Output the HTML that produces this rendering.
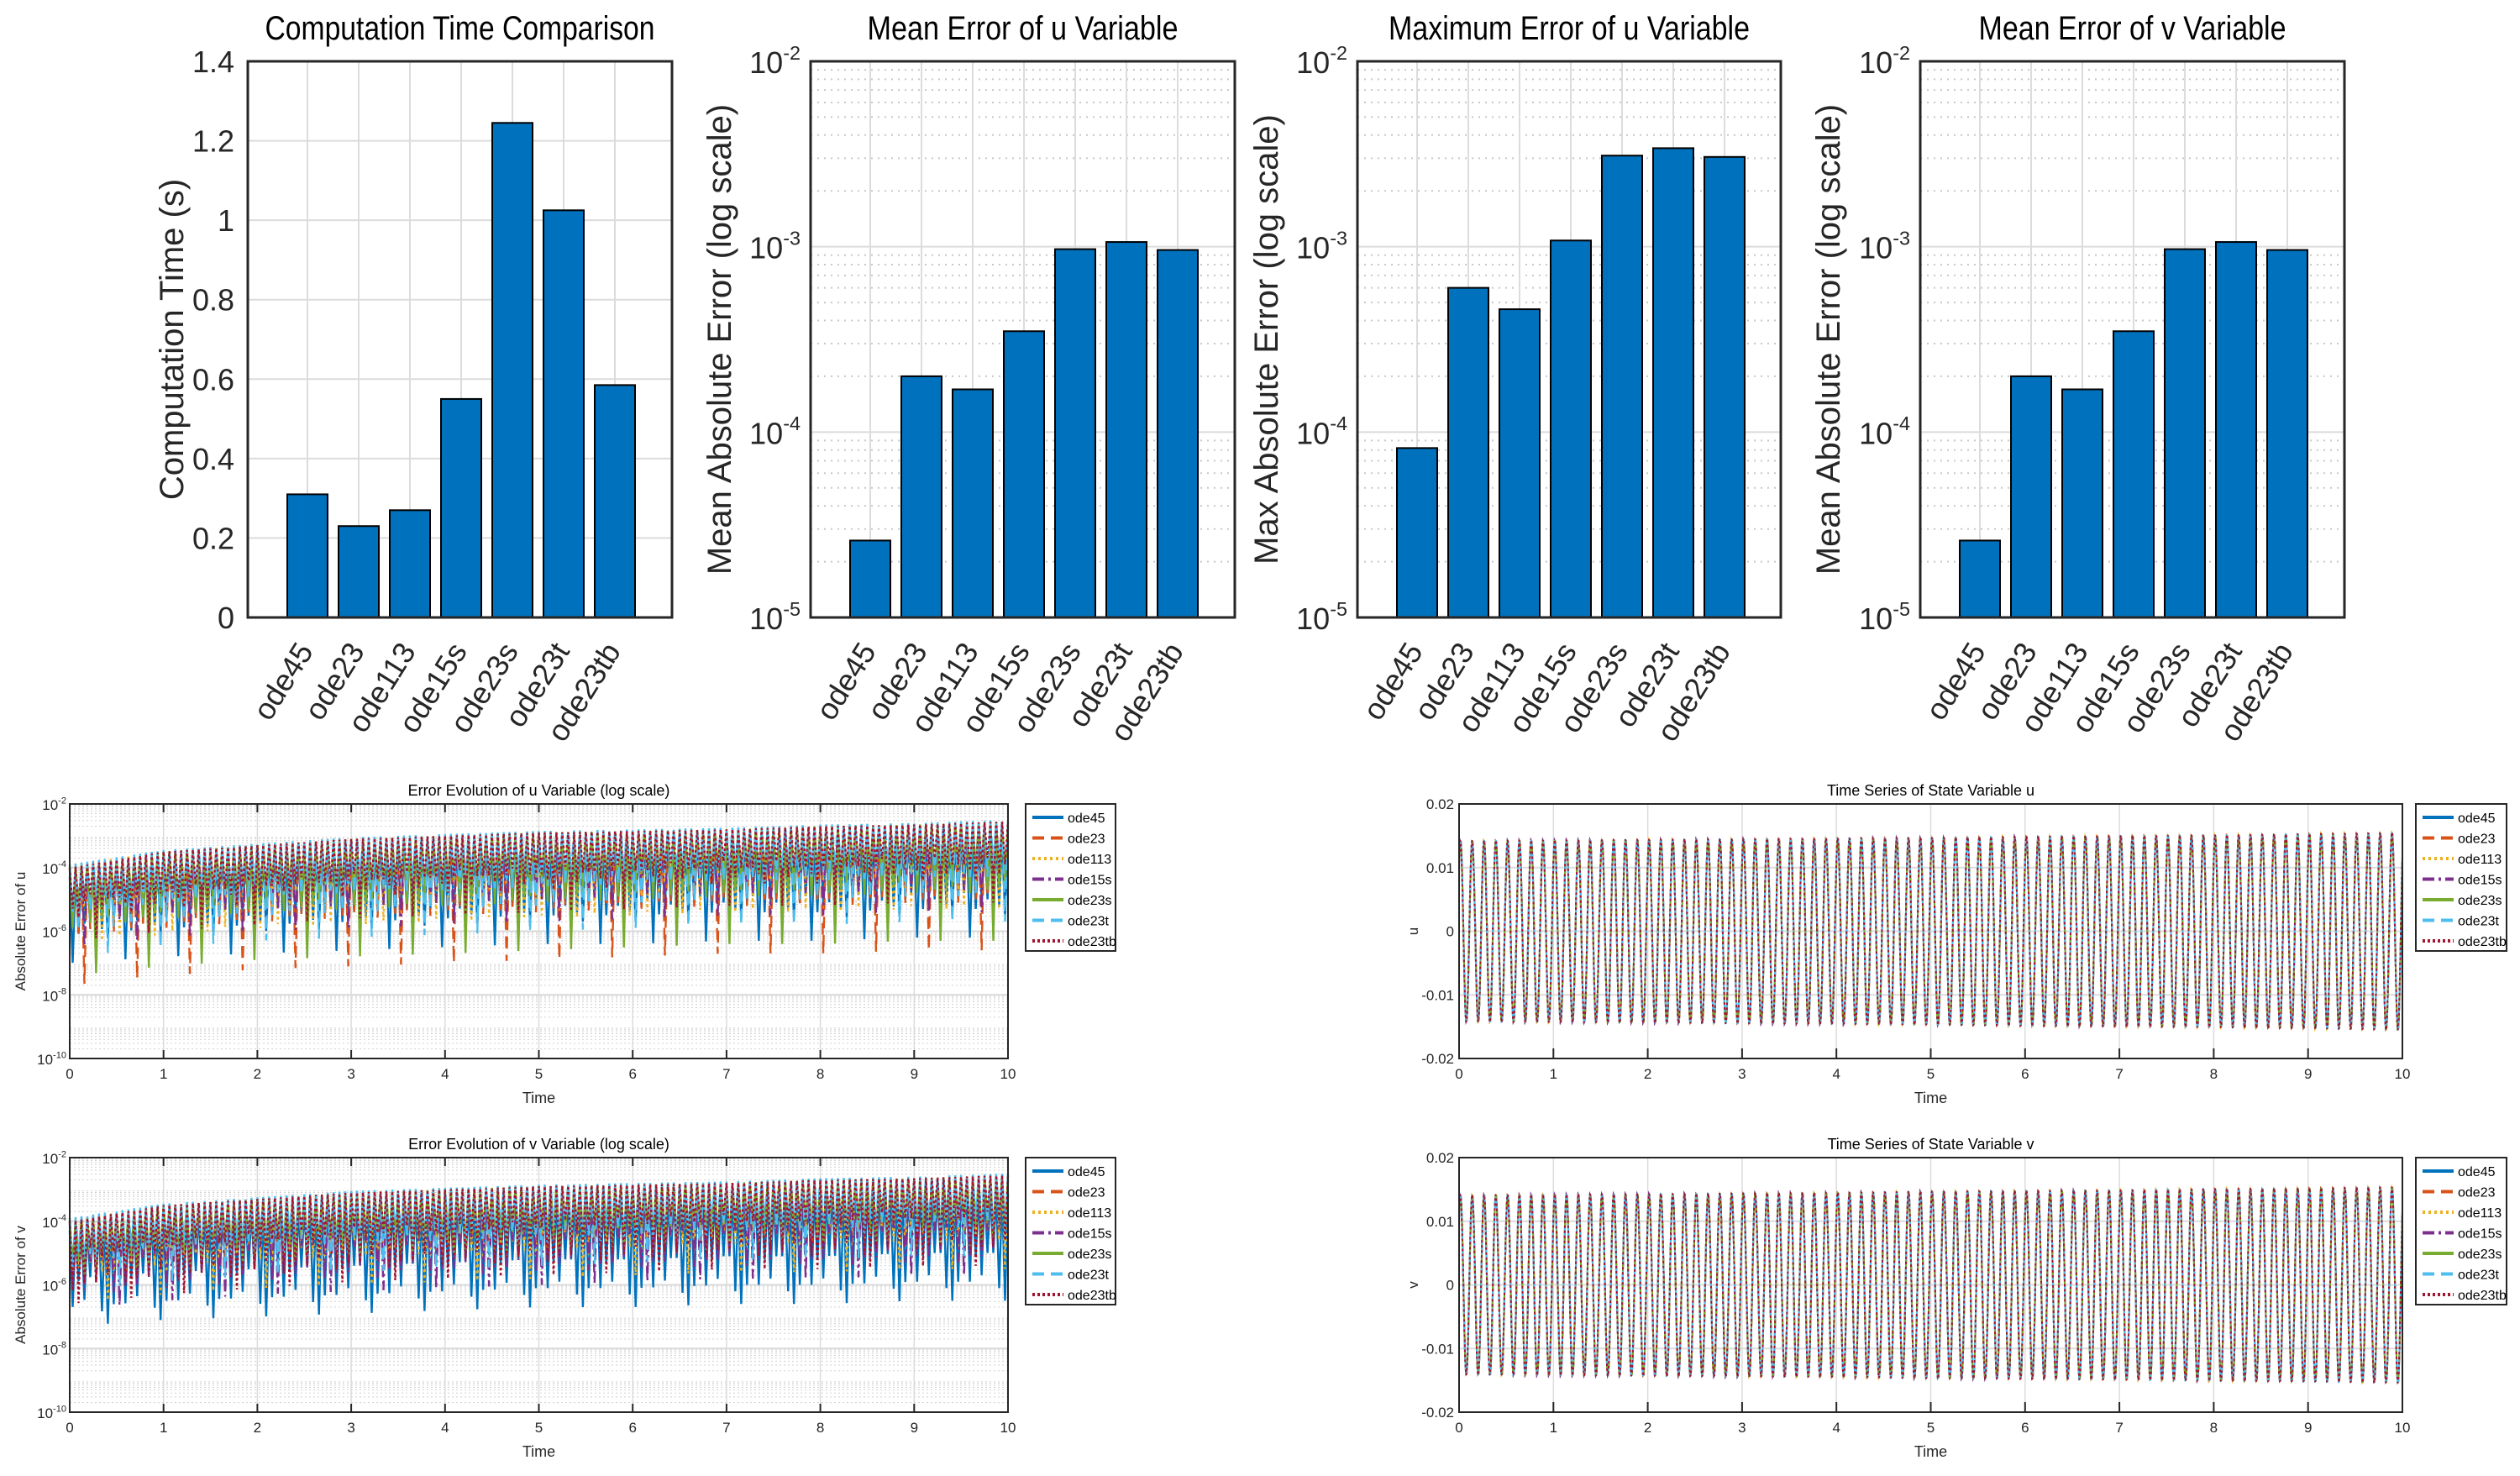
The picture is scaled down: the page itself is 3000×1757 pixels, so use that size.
<!DOCTYPE html>
<html><head><meta charset="utf-8">
<style>
html,body{margin:0;padding:0;background:#fff;}
svg{display:block;font-family:"Liberation Sans",sans-serif;}
</style></head>
<body>
<svg id="fig" width="3000" height="1757" viewBox="0 0 3000 1757" xmlns="http://www.w3.org/2000/svg">
<rect width="3000" height="1757" fill="#fff"/>
</svg>
<script>
// ---------- data ----------
const solvers = ["ode45","ode23","ode113","ode15s","ode23s","ode23t","ode23tb"];
const compTime = [0.31,0.23,0.27,0.55,1.245,1.025,0.585];
const meanErrU = [2.6e-5,2.0e-4,1.7e-4,3.5e-4,9.7e-4,1.06e-3,9.6e-4];
const maxErrU = [8.2e-5,6.0e-4,4.6e-4,1.08e-3,3.1e-3,3.4e-3,3.05e-3];
const meanErrV = [2.6e-5,2.0e-4,1.7e-4,3.5e-4,9.7e-4,1.06e-3,9.6e-4];
const linTicks = [0,0.2,0.4,0.6,0.8,1,1.2,1.4];
const logTicksTop = [-5,-4,-3,-2];
const logTicksBottom = [-10,-8,-6,-4,-2];
const timeTicks = [0,1,2,3,4,5,6,7,8,9,10];
const stateTicks = [-0.02,-0.01,0,0.01,0.02];
// log10 error envelopes at t=0..10 per solver
const errPeakU = [
 [-4.3,-3.9,-3.7,-3.55,-3.45,-3.4,-3.35,-3.3,-3.25,-3.2,-3.15],
 [-4.0,-3.5,-3.3,-3.15,-3.0,-2.95,-2.9,-2.8,-2.75,-2.7,-2.6],
 [-3.9,-3.5,-3.3,-3.15,-3.05,-2.95,-2.9,-2.8,-2.75,-2.7,-2.6],
 [-4.1,-3.6,-3.4,-3.25,-3.1,-3.05,-2.95,-2.9,-2.85,-2.75,-2.7],
 [-4.0,-3.5,-3.3,-3.1,-3.0,-2.9,-2.85,-2.8,-2.7,-2.65,-2.55],
 [-3.9,-3.45,-3.25,-3.05,-2.95,-2.85,-2.8,-2.75,-2.65,-2.6,-2.5],
 [-4.0,-3.5,-3.3,-3.1,-3.0,-2.9,-2.85,-2.8,-2.7,-2.65,-2.55]];
const errTroughU = [
 [-5.8,-5.6,-5.5,-5.4,-5.3,-5.2,-5.2,-5.1,-5.1,-5.0,-5.0],
 [-5.4,-5.1,-4.9,-4.8,-4.7,-4.6,-4.5,-4.4,-4.4,-4.3,-4.3],
 [-5.4,-5.1,-4.9,-4.8,-4.7,-4.6,-4.5,-4.4,-4.4,-4.3,-4.3],
 [-5.3,-5.0,-4.8,-4.7,-4.6,-4.5,-4.4,-4.3,-4.3,-4.2,-4.2],
 [-5.1,-4.8,-4.6,-4.5,-4.4,-4.3,-4.2,-4.1,-4.1,-4.0,-4.0],
 [-5.0,-4.7,-4.5,-4.4,-4.3,-4.2,-4.1,-4.0,-4.0,-3.9,-3.9],
 [-5.1,-4.8,-4.6,-4.4,-4.3,-4.2,-4.1,-4.0,-4.0,-3.9,-3.9]];
const errPeakV = errPeakU;
const errTroughV = errTroughU;
const dipsU = [0,-0.4,-0.1,-1.2,0,-0.6,-0.2,-0.9,0,-0.3,-1.8,0,-0.5,-0.1,-0.7,0,-1.0,-0.2,0,-0.4,-2.3,0,-0.3,-0.8,0.2,0,-0.6];
const dipsV = [0,-0.5,-0.2,-0.9,0,-0.3,-1.1,0,-0.6,-0.1,-0.4,0,-1.5,-0.2,0,-0.7,-0.3,0,-0.9,-0.1,-0.5,0,-1.2,-0.2,0.2,-0.4,0];
// amplitudes of state oscillation at t=0..10
const ampU = [0.0143,0.0144,0.0145,0.0146,0.0147,0.0148,0.0150,0.0151,0.0152,0.0154,0.0156];
const ampV = [0.0142,0.0143,0.0144,0.0145,0.0146,0.0148,0.0149,0.0150,0.0152,0.0153,0.0155];
const cyclesPerUnit = 8.0;

const colors = ["#0072BD","#D95319","#EDB120","#7E2F8E","#77AC30","#4DBEEE","#A2142F"];
const dashes = ["none","14,8","3,4","14,5,3,5","none","14,8","3,3"];

// ---------- helpers ----------
const NS="http://www.w3.org/2000/svg";
const fig=document.getElementById('fig');
function mk(tag,attrs,parent){const e=document.createElementNS(NS,tag);for(const k in attrs)e.setAttribute(k,attrs[k]);(parent||fig).appendChild(e);return e;}
function txt(s,attrs,parent){const e=mk('text',attrs,parent);e.textContent=s;return e;}
function powLabel(g,x,y,exp,size,anchor){
  const t=mk('text',{x:x,y:y,'font-size':size,'text-anchor':anchor||'end',fill:'#262626'},g);
  const a=document.createElementNS(NS,'tspan');a.textContent='10';t.appendChild(a);
  const b=document.createElementNS(NS,'tspan');b.setAttribute('dy',-size*0.45);b.setAttribute('font-size',size*0.65);b.textContent=String(exp);t.appendChild(b);
  return t;
}
function interp(arr,t){const i=Math.min(Math.floor(t),arr.length-2);const f=t-i;return arr[i]*(1-f)+arr[i+1]*f;}

// ---------- bar charts ----------
function barChart(name,L,R,T,B,values,isLog,title,titleLen,ylabel,ylabX){
  const g=mk('g',{},fig);
  
  
  const W=R-L,H=B-T;
  const y = isLog ? (v=>B-(Math.log10(v)+5)/3*H) : (v=>B-v/1.4*H);
  const xc = i=>L+71+i*61;
  if(isLog){
    for(let d=-5;d<-2;d++)for(let m=2;m<10;m++){
      const yy=y(m*Math.pow(10,d));
      mk('line',{x1:L,x2:R,y1:yy,y2:yy,stroke:'#c8c8c8','stroke-width':2,'stroke-dasharray':'2,6'},g);
    }
  }
  const ticks = isLog ? logTicksTop : linTicks;
  ticks.forEach(tk=>{
    const yy= isLog? y(Math.pow(10,tk)) : y(tk);
    mk('line',{x1:L,x2:R,y1:yy,y2:yy,stroke:'#dcdcdc','stroke-width':2},g);
    if(isLog) powLabel(g,L-12,yy+14,tk,36);
    else txt(String(tk),{x:L-16,y:yy+13,'font-size':36,'text-anchor':'end',fill:'#262626'},g);
  });
  solvers.forEach((s,i)=>mk('line',{x1:xc(i),x2:xc(i),y1:T,y2:B,stroke:'#dcdcdc','stroke-width':2},g));
  values.forEach((v,i)=>{
    const yy=y(v);
    const r=mk('rect',{x:xc(i)-24,y:yy,width:48,height:B-yy,fill:'#0072BD',stroke:'#000','stroke-width':2},g);
    
    
  });
  mk('rect',{x:L,y:T,width:W,height:H,fill:'none',stroke:'#262626','stroke-width':3},g);
  solvers.forEach((s,i)=>{
    const x=xc(i)+8,yy=B+40;
    const t=txt(s,{x:x,y:yy,'font-size':36,'text-anchor':'end',fill:'#262626',transform:`rotate(-58 ${x} ${yy})`},g);
    
    
  });
  const tt=txt(title,{x:(L+R)/2,y:47,'font-size':40,'text-anchor':'middle',fill:'#000',textLength:titleLen,lengthAdjust:'spacingAndGlyphs'},g);
  
  
  const yl=txt(ylabel,{x:ylabX,y:(T+B)/2,'font-size':40,'text-anchor':'middle',fill:'#262626',transform:`rotate(-90 ${ylabX} ${(T+B)/2})`},g);
  
  
}
barChart('computation-time-chart',295,800,73,735,compTime,false,'Computation Time Comparison',464,'Computation Time (s)',218);
barChart('mean-error-u-chart',965,1470,73,735,meanErrU,true,'Mean Error of u Variable',370,'Mean Absolute Error (log scale)',870);
barChart('max-error-u-chart',1616,2120,73,735,maxErrU,true,'Maximum Error of u Variable',430,'Max Absolute Error (log scale)',1521);
barChart('mean-error-v-chart',2286,2791,73,735,meanErrV,true,'Mean Error of v Variable',366,'Mean Absolute Error (log scale)',2190);

// ---------- legends ----------
function legend(L,T,W,parent){
  const g=mk('g',{},parent);
  
  
  mk('rect',{x:L,y:T,width:W,height:175,fill:'#fff',stroke:'#262626','stroke-width':2},g);
  solvers.forEach((s,i)=>{
    const yy=T+16+i*24.5;
    const e=mk('g',{},g);
    
    
    const a={x1:L+8,x2:L+45,y1:yy,y2:yy,stroke:colors[i],'stroke-width':4};
    if(dashes[i]!=='none')a['stroke-dasharray']=dashes[i];
    mk('line',a,e);
    txt(s,{x:L+50,y:yy+6,'font-size':16,fill:'#000'},e);
  });
}

// ---------- error evolution (log) ----------
function errPlot(name,L,R,T,B,peaks,troughs,dips,title,ylabel){
  const g=mk('g',{},fig);
  
  
  const x=t=>L+t/10*(R-L);
  const y=lv=>T+(-2-lv)/8*(B-T);
  for(let d=-10;d<-2;d++)for(let m=2;m<10;m++){
    const yy=y(d+Math.log10(m));
    mk('line',{x1:L,x2:R,y1:yy,y2:yy,stroke:'#d0d0d0','stroke-width':1,'stroke-dasharray':'2,3'},g);
  }
  logTicksBottom.forEach(tk=>{const yy=y(tk);mk('line',{x1:L,x2:R,y1:yy,y2:yy,stroke:'#d8d8d8','stroke-width':2},g);powLabel(g,L-4,yy+7,tk,17);});
  timeTicks.forEach(tk=>{const xx=x(tk);mk('line',{x1:xx,x2:xx,y1:T,y2:B,stroke:'#dcdcdc','stroke-width':1.5},g);
    mk('line',{x1:xx,x2:xx,y1:B,y2:B-10,stroke:'#262626','stroke-width':2},g);mk('line',{x1:xx,x2:xx,y1:T,y2:T+10,stroke:'#262626','stroke-width':2},g);
    txt(String(tk),{x:xx,y:B+24,'font-size':17,'text-anchor':'middle',fill:'#262626'},g);});
  const N=320;
  solvers.forEach((s,si)=>{
    let pts=[];
    for(let k=0;k<=N;k++){
      const t=k*10/N;
      let lv;
      if(k%2===0) lv=interp(peaks[si],t);
      else lv=interp(troughs[si],t)+dips[(k*3+si*5)%dips.length];
      pts.push(x(t).toFixed(1)+','+y(lv).toFixed(1));
    }
    const a={points:pts.join(' '),fill:'none',stroke:colors[si],'stroke-width':2.4};
    if(dashes[si]!=='none')a['stroke-dasharray']=dashes[si];
    const p=mk('polyline',a,g);
    
    
  });
  mk('rect',{x:L,y:T,width:R-L,height:B-T,fill:'none',stroke:'#262626','stroke-width':2},g);
  txt(title,{x:(L+R)/2,y:T-10,'font-size':18,'text-anchor':'middle',fill:'#000'},g);
  txt('Time',{x:(L+R)/2,y:B+53,'font-size':18,'text-anchor':'middle',fill:'#262626'},g);
  const yl=txt(ylabel,{x:30,y:(T+B)/2,'font-size':17,'text-anchor':'middle',fill:'#262626',transform:`rotate(-90 30 ${(T+B)/2})`},g);
  
  
  legend(1221,T,107,g);
}
errPlot('error-evolution-u-chart',83,1200,957,1260,errPeakU,errTroughU,dipsU,'Error Evolution of u Variable (log scale)','Absolute Error of u');
errPlot('error-evolution-v-chart',83,1200,1378,1681,errPeakV,errTroughV,dipsV,'Error Evolution of v Variable (log scale)','Absolute Error of v');

// ---------- state time series ----------
function statePlot(name,L,R,T,B,amp,title,ylabel){
  const g=mk('g',{},fig);
  
  
  const x=t=>L+t/10*(R-L);
  const y=v=>T+(0.02-v)/0.04*(B-T);
  stateTicks.forEach(tk=>{const yy=y(tk);mk('line',{x1:L,x2:R,y1:yy,y2:yy,stroke:'#dcdcdc','stroke-width':2},g);
    txt(String(tk),{x:L-6,y:yy+6,'font-size':17,'text-anchor':'end',fill:'#262626'},g);});
  timeTicks.forEach(tk=>{const xx=x(tk);mk('line',{x1:xx,x2:xx,y1:T,y2:B,stroke:'#dcdcdc','stroke-width':1.5},g);
    mk('line',{x1:xx,x2:xx,y1:B,y2:B-12,stroke:'#262626','stroke-width':2},g);
    txt(String(tk),{x:xx,y:B+24,'font-size':17,'text-anchor':'middle',fill:'#262626'},g);});
  const steps=1600;
  solvers.forEach((s,si)=>{
    let pts=[];
    for(let k=0;k<=steps;k++){
      const t=k*10/steps;
      const v=interp(amp,t)*Math.sin(2*Math.PI*cyclesPerUnit*t+0.8+si*0.01);
      pts.push(x(t).toFixed(1)+','+y(v).toFixed(1));
    }
    const a={points:pts.join(' '),fill:'none',stroke:colors[si],'stroke-width':2};
    if(dashes[si]!=='none')a['stroke-dasharray']=dashes[si];
    const p=mk('polyline',a,g);
    
    
  });
  mk('rect',{x:L,y:T,width:R-L,height:B-T,fill:'none',stroke:'#262626','stroke-width':2},g);
  txt(title,{x:(L+R)/2,y:T-10,'font-size':18,'text-anchor':'middle',fill:'#000'},g);
  txt('Time',{x:(L+R)/2,y:B+53,'font-size':18,'text-anchor':'middle',fill:'#262626'},g);
  const yl=txt(ylabel,{x:1688,y:(T+B)/2,'font-size':17,'text-anchor':'middle',fill:'#262626',transform:`rotate(-90 1688 ${(T+B)/2})`},g);
  
  
  legend(2876,T,108,g);
}
statePlot('state-u-chart',1737,2860,957,1260,ampU,'Time Series of State Variable u','u');
statePlot('state-v-chart',1737,2860,1378,1681,ampV,'Time Series of State Variable v','v');
</script>
</body></html>
